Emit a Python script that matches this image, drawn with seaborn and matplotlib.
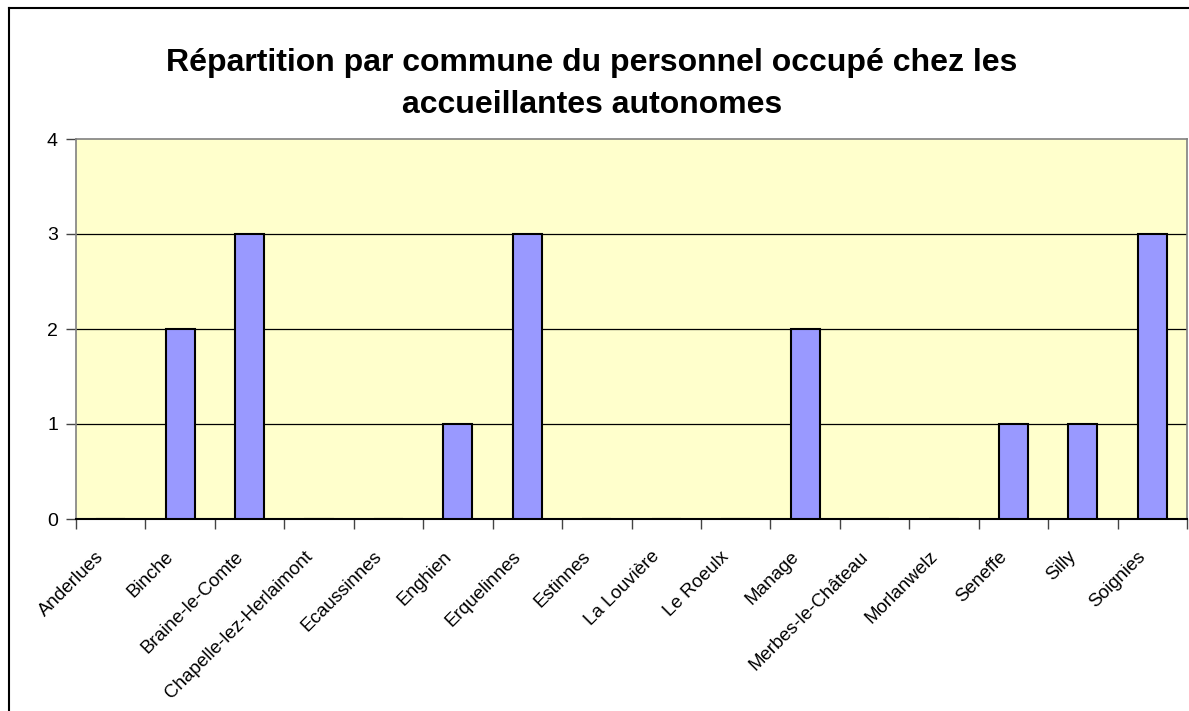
import matplotlib
matplotlib.use('Agg')
import matplotlib.pyplot as plt
import matplotlib.transforms as mtransforms
from matplotlib.lines import Line2D
import seaborn as sns
import pandas as pd
import numpy as np

# Data
communes = ['Anderlues', 'Binche', 'Braine-le-Comte', 'Chapelle-lez-Herlaimont',
            'Ecaussinnes', 'Enghien', 'Erquelinnes', 'Estinnes', 'La Louvière',
            'Le Roeulx', 'Manage', 'Merbes-le-Château', 'Morlanwelz', 'Seneffe',
            'Silly', 'Soignies']
personnel = [0, 2, 3, 0, 0, 1, 3, 0, 0, 0, 2, 0, 0, 1, 1, 3]
y_ticks = [0, 1, 2, 3, 4]
title = 'Répartition par commune du personnel occupé chez les\naccueillantes autonomes'

df = pd.DataFrame({'commune': communes, 'personnel': personnel})

plt.rcParams['font.family'] = ['Liberation Sans', 'DejaVu Sans']

fig = plt.figure(figsize=(11.89, 7.11), dpi=100)
ax = fig.add_axes([76 / 1189, 1 - 519 / 711, (1187 - 76) / 1189, (519 - 139) / 711])
ax.set_facecolor('#FFFFCC')

sns.barplot(data=df, x='commune', y='personnel', color='#9999FF', saturation=1,
            edgecolor='black', linewidth=1.5, width=0.42, ax=ax, zorder=3)

ax.set_xlim(-0.5, len(communes) - 0.5)
ax.set_ylim(0, 4)
ax.set_yticks(y_ticks)
ax.set_yticklabels([str(v) for v in y_ticks], fontsize=14)
ax.tick_params(axis='y', length=7, width=1, color='#444444', pad=6)

# grid lines at every unit, below the bars
for v in y_ticks[1:-1]:
    ax.axhline(v, color='black', lw=0.9, zorder=1)

# category labels centred, tick marks on boundaries
ax.set_xticks(np.arange(len(communes)))
ax.set_xticklabels(communes, rotation=45, ha='right', rotation_mode='anchor', fontsize=13.5)
ax.tick_params(axis='x', which='major', length=0, pad=21)
ax.set_xticks(np.arange(len(communes) + 1) - 0.5, minor=True)
ax.tick_params(axis='x', which='minor', length=7, width=1, color='#444444')
offset = mtransforms.ScaledTranslation(-15 / 100, 0, fig.dpi_scale_trans)
for lbl in ax.get_xticklabels():
    lbl.set_transform(lbl.get_transform() + offset)

ax.set_xlabel('')
ax.set_ylabel('')

for side in ['top', 'right', 'left']:
    ax.spines[side].set_color('#808080')
    ax.spines[side].set_linewidth(1.2)
ax.spines['bottom'].set_color('black')
ax.spines['bottom'].set_linewidth(1.5)

fig.text(592 / 1189, 1 - 84 / 711, title, ha='center', va='center',
         fontsize=23, fontweight='bold', linespacing=1.5)

# outer chart frame (left and top edges visible)
fig.add_artist(Line2D([9 / 1189, 9 / 1189], [0, 1 - 8 / 711], color='black', lw=1.5,
                      transform=fig.transFigure))
fig.add_artist(Line2D([9 / 1189, 1], [1 - 8 / 711, 1 - 8 / 711], color='black', lw=1.5,
                      transform=fig.transFigure))

fig.savefig('out.png', dpi=100, facecolor='white')
